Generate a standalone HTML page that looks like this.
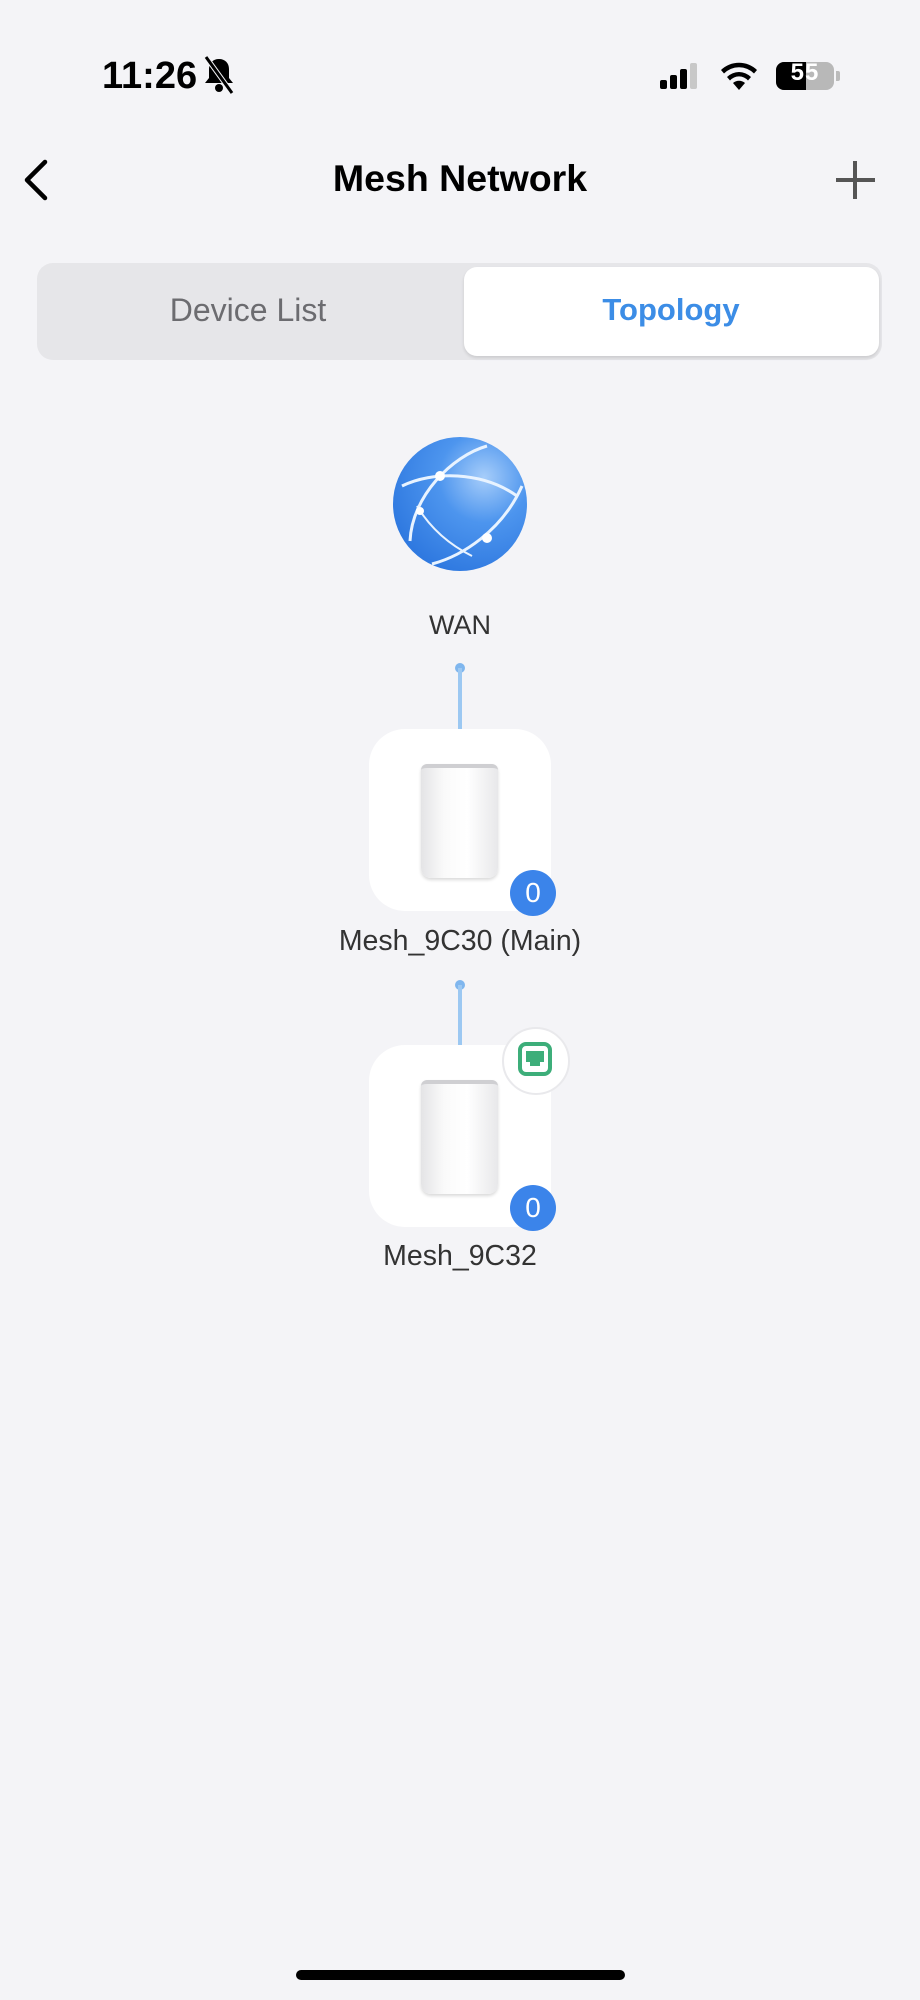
<!DOCTYPE html>
<html><head><meta charset="utf-8"><style>
html,body{margin:0;padding:0}
body{width:920px;height:2000px;background:#f4f4f7;position:relative;overflow:hidden;font-family:"Liberation Sans",sans-serif}
.a{position:absolute}
.t{position:absolute;white-space:nowrap;transform:translateX(-50%)}
.card{position:absolute;left:369px;width:182px;height:182px;background:#fff;border-radius:36px}
.badge{position:absolute;width:46px;height:46px;border-radius:50%;background:#3b84ea;color:#fff;font-size:28px;line-height:46px;text-align:center}
.line{position:absolute;left:458px;width:4px;background:#9cc8f2}
.dot{position:absolute;left:455px;width:10px;height:10px;border-radius:50%;background:#7fb6ee}
</style></head><body>
<div class="a" style="left:102px;top:55px;font-size:38px;font-weight:bold;color:#000">11:26</div>
<svg class="a" style="left:202px;top:55px" width="34" height="40" viewBox="0 0 34 40"><path d="M17 4c-6 0-10 4-10 10v9l-4 5h28l-4-5v-9c0-6-4-10-10-10z" fill="#000"/><circle cx="17" cy="33" r="4" fill="#000"/><line x1="4" y1="2" x2="30" y2="38" stroke="#f4f4f7" stroke-width="5"/><line x1="4" y1="2" x2="30" y2="38" stroke="#000" stroke-width="3"/></svg>
<svg class="a" style="left:658px;top:62px" width="46" height="28"><rect x="2" y="18" width="7" height="9" rx="2"/><rect x="12" y="13" width="7" height="14" rx="2"/><rect x="22" y="7" width="7" height="20" rx="2"/><rect x="32" y="1" width="7" height="26" rx="2" fill="#c8c8c8"/></svg>
<svg class="a" style="left:718px;top:60px" width="42" height="32" viewBox="0 0 42 32"><path d="M21 30l-6-7a9 9 0 0 1 12 0z" /><path d="M9 17a17 17 0 0 1 24 0l-3 3.5a12 12 0 0 0-18 0z"/><path d="M3 10a26 26 0 0 1 36 0l-3 3.5a21 21 0 0 0-30 0z"/></svg>
<div class="a" style="left:776px;top:62px;width:58px;height:28px;border-radius:8px;background:#b8b8b8;overflow:hidden"><div style="width:30px;height:28px;background:#000"></div></div>
<div class="a" style="left:776px;top:59px;width:58px;font-size:24px;font-weight:bold;color:#fff;text-align:center;letter-spacing:1px">55</div>
<div class="a" style="left:836px;top:71px;width:4px;height:10px;background:#bbb;border-radius:0 2px 2px 0"></div>
<svg class="a" style="left:18px;top:158px" width="34" height="44"><polyline points="27,4 9,22 27,40" fill="none" stroke="#000" stroke-width="4.5" stroke-linecap="round" stroke-linejoin="round"/></svg>
<div class="t" style="left:460px;top:157px;font-size:37.5px;font-weight:bold;color:#000">Mesh Network</div>
<div class="a" style="left:836px;top:178px;width:39px;height:4px;background:#555"></div>
<div class="a" style="left:853px;top:161px;width:4px;height:38px;background:#555"></div>
<div class="a" style="left:37px;top:263px;width:845px;height:97px;border-radius:16px;background:#e6e6e9"></div>
<div class="a" style="left:464px;top:267px;width:415px;height:89px;border-radius:13px;background:#fff;box-shadow:0 2px 3px rgba(0,0,0,.12)"></div>
<div class="t" style="left:248px;top:292px;font-size:32px;color:#6c6c70">Device List</div>
<div class="t" style="left:671px;top:292px;font-size:31px;font-weight:bold;color:#3c8de6">Topology</div>
<svg class="a" style="left:392px;top:436px" width="136" height="136" viewBox="0 0 136 136"><defs><radialGradient id="g" cx="0.68" cy="0.3" r="0.75"><stop offset="0" stop-color="#a6cdfa"/><stop offset="0.45" stop-color="#4d95ee"/><stop offset="1" stop-color="#2f79e0"/></radialGradient></defs><circle cx="68" cy="68" r="67" fill="url(#g)"/><path d="M10 50C40 35 90 35 125 60" fill="none" stroke="#e8f3ff" stroke-width="3"/><path d="M18 105C20 60 60 20 95 10" fill="none" stroke="#e8f3ff" stroke-width="3"/><path d="M40 128C70 120 110 95 130 50" fill="none" stroke="#e8f3ff" stroke-width="3"/><path d="M25 70C40 95 60 110 80 120" fill="none" stroke="#e8f3ff" stroke-width="2"/><circle cx="48" cy="40" r="5" fill="#fff"/><circle cx="95" cy="102" r="5" fill="#fff"/><circle cx="28" cy="75" r="4" fill="#fff"/></svg>
<div class="t" style="left:460px;top:610px;font-size:27px;color:#333">WAN</div>
<div class="dot" style="top:663px"></div><div class="line" style="top:668px;height:62px"></div>
<div class="card" style="top:729px"></div>
<div class="a" style="left:421px;top:764px;width:77px;height:110px;border-radius:6px 6px 10px 10px;background:linear-gradient(90deg,#e4e4e6,#fafafa 30%,#fff 60%,#e8e8ea);box-shadow:0 2px 3px rgba(0,0,0,.15);border-top:4px solid #cfcfd2"></div>
<div class="badge" style="left:510px;top:870px">0</div>
<div class="t" style="left:460px;top:925px;font-size:28.5px;color:#333">Mesh_9C30 (Main)</div>
<div class="dot" style="top:980px"></div><div class="line" style="top:985px;height:61px"></div>
<div class="card" style="top:1045px"></div>
<div class="a" style="left:421px;top:1080px;width:77px;height:110px;border-radius:6px 6px 10px 10px;background:linear-gradient(90deg,#e4e4e6,#fafafa 30%,#fff 60%,#e8e8ea);box-shadow:0 2px 3px rgba(0,0,0,.15);border-top:4px solid #cfcfd2"></div>
<div class="a" style="left:502px;top:1027px;width:64px;height:64px;border-radius:50%;background:#fff;border:2px solid #e9e9ec"></div>
<svg class="a" style="left:518px;top:1042px" width="34" height="34" viewBox="0 0 34 34"><rect x="2" y="2" width="30" height="30" rx="6" fill="none" stroke="#3dae7a" stroke-width="4"/><path d="M8 9h18v11h-4v4h-10v-4h-4z" fill="#3dae7a"/></svg>
<div class="badge" style="left:510px;top:1185px">0</div>
<div class="t" style="left:460px;top:1240px;font-size:28.5px;color:#333">Mesh_9C32</div>
<div class="a" style="left:296px;top:1970px;width:329px;height:10px;border-radius:5px;background:#000"></div>
</body></html>
